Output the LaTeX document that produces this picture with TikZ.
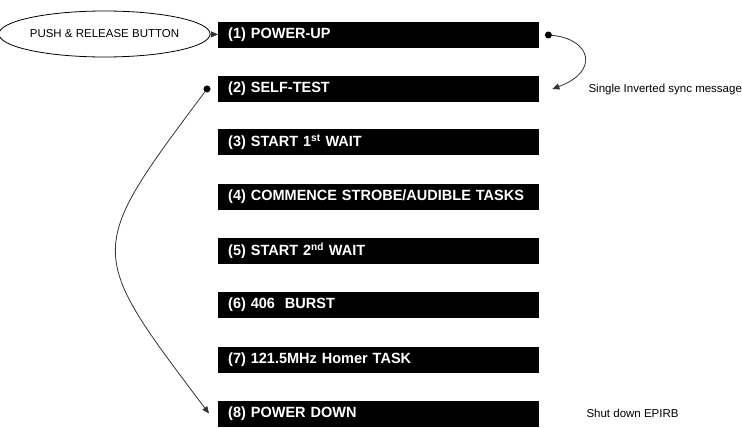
\documentclass[tikz,border=0pt]{standalone}
\usepackage{fontspec}
\setmainfont{Liberation Sans}
\newfontfamily\barfont[FakeStretch=0.98]{Liberation Sans}
\usepackage{tikz}
\usetikzlibrary{
	arrows.meta,
	shapes.geometric,
	positioning
}

\begin{document}
\begin{tikzpicture}[x=1pt, y=-1pt,
		task/.style={fill=black, text=white, anchor=west, minimum height=26pt, text width=301pt, inner xsep=10pt, inner ysep=0pt, align=left, font=\barfont\fontsize{14.8}{16}\selectfont\bfseries},
		note/.style={anchor=west, font=\fontsize{11.5}{13}\selectfont},
		link/.style={draw=black!80, line width=0.8pt, -{Triangle[length=7pt,width=6pt]}},
		blob/.style={circle, fill=black, inner sep=0pt, minimum size=7pt}]
			\useasboundingbox (0,0) rectangle (742,428);
			\node[ellipse, draw, line width=0.8pt, minimum width=185pt, minimum height=46pt, inner sep=0pt, font=\fontsize{11.5}{13}\selectfont] (btn) at (104.5,34) {PUSH \& RELEASE BUTTON};
			\node[task] (t1) at (218,35) {(1) POWER-UP};
			\node[task] (t2) at (218,89) {(2) SELF-TEST};
			\node[task] (t3) at (218,142) {(3) START 1\textsuperscript{st} WAIT};
			\node[task] (t4) at (218,196.5) {(4) COMMENCE STROBE/AUDIBLE TASKS};
			\node[task] (t5) at (218,250.5) {(5) START 2\textsuperscript{nd} WAIT};
			\node[task] (t6) at (218,305) {(6) 406~ BURST};
			\node[task] (t7) at (218,360) {(7) 121.5MHz Homer TASK};
			\node[task] (t8) at (218,413.5) {(8) POWER DOWN};
			\node[blob] (d1) at ([xshift=9pt]t1.east) {};
			\node[blob] (d2) at ([xshift=-11pt]t2.west) {};
			\coordinate (s2) at ([xshift=13pt]t2.east);
			\coordinate (s8) at ([xshift=-9pt]t8.west);
			\node[note] (msg) at (585,90) {Single Inverted sync message};
			\node[note] (off) at (583,413) {Shut down EPIRB};
			\draw[link] (btn) -- (t1);
			\draw[link] (d1) .. controls +(42,4) and +(48,-18) .. (s2);
			\draw[link] (d2) .. controls +(-122,163) and +(-123,-163) .. (s8);
		\end{tikzpicture}
\end{document}
